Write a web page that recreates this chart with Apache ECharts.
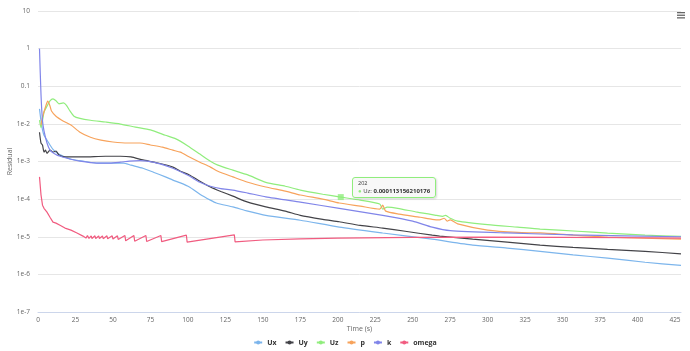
<!DOCTYPE html>
<html>
<head>
<meta charset="utf-8">
<script src="https://cdn.jsdelivr.net/npm/echarts@6/dist/echarts.min.js"></script>
<style>
    html, body { margin: 0; padding: 0; background: #fff; }
    #chart { width: 690px; height: 351px; }
</style>
</head>
<body>
<div id="chart"></div>
<script>
// residuals (time in s)
var uxTime = [1,2,3,4,6,8,10,13,17,22,30,40,50,57,62,70,77,85,90,95,101,108,115,119,130,140,152,175,201,230,263,290,313,335,357,380,405,429];
var ux = [0.025,0.012,0.0069,0.005,0.0037,0.00275,0.0021,0.00165,0.00138,0.00115,0.00102,0.00091,0.00091,0.00091,0.0008,0.00066,0.00052,0.00039,0.00032,0.00027,0.00021,0.000135,0.000094,0.000079,0.000062,0.000048,0.000037,0.0000275,0.000018,0.0000126,0.0000086,0.000006,0.000005,0.0000041,0.0000033,0.0000027,0.0000021,0.00000173];

var uyTime = [1,2,3,4,5,6,8,10,12,14,18,30,45,55,62,70,80,90,95,101,108,115,122,130,140,152,165,175,190,201,215,230,245,263,268,290,313,335,357,380,405,429];
var uy = [0.006,0.0031,0.00275,0.00178,0.002,0.00165,0.002,0.00178,0.0019,0.00148,0.00132,0.00132,0.00138,0.00138,0.00132,0.0011,0.00091,0.00071,0.00055,0.00044,0.0003,0.00021,0.00016,0.00012,0.000083,0.000062,0.000048,0.000037,0.000029,0.000025,0.00002,0.000017,0.000014,0.000011,0.0000104,0.0000086,0.0000072,0.000006,0.0000052,0.0000046,0.0000041,0.0000035];

var uzTime = [1,2,4,6,8,10,12,14,17,19,21,24,28,35,45,55,65,75,85,92,100,108,115,120,130,140,152,165,175,190,202,215,228,230,233,240,253,266,270,272,275,280,300,320,335,360,380,405,429];
var uz = [0.0126,0.0079,0.0204,0.0295,0.041,0.046,0.041,0.034,0.036,0.031,0.023,0.016,0.014,0.0125,0.0112,0.0099,0.0082,0.0069,0.005,0.004,0.0026,0.00158,0.00102,0.0008,0.00059,0.00044,0.00028,0.00022,0.000174,0.000135,0.000113156210176,0.000094,0.000074,0.000054,0.000061,0.000057,0.000045,0.000037,0.000035,0.000037,0.000031,0.000026,0.000021,0.000018,0.000016,0.000014,0.0000125,0.000011,0.0000103];

var pTime = [2,3,5,6.5,8,9,12,17,22,28,35,42,50,60,68,75,83,90,95,100,108,115,120,130,140,152,165,175,190,201,215,228,230,232,241,255,263,268,271,273,275,280,300,320,335,380,429];
var p = [0.0093,0.015,0.028,0.04,0.03,0.022,0.016,0.0118,0.0093,0.006,0.0044,0.0037,0.0033,0.0031,0.0031,0.00275,0.0024,0.002,0.00177,0.00138,0.00096,0.00071,0.00055,0.00039,0.00028,0.00021,0.000163,0.000129,0.0001,0.000079,0.000065,0.000054,0.000069,0.000048,0.00004,0.000033,0.000029,0.000028,0.000031,0.000026,0.000028,0.000022,0.000015,0.000013,0.0000126,0.0000098,0.0000086];

var kTime = [1,2,3,4,6,8,10,13,17,22,28,39,48,55,61,68,73,82,90,101,108,115,122,130,140,152,175,201,230,250,263,275,313,357,429];
var k = [1.0,0.06,0.012,0.0065,0.0031,0.002,0.0017,0.00145,0.0013,0.00115,0.00102,0.00091,0.00091,0.00096,0.00102,0.00105,0.00102,0.00085,0.00066,0.00041,0.00028,0.00022,0.00019,0.000174,0.000145,0.000115,0.000083,0.000057,0.000037,0.000026,0.000018,0.0000145,0.0000126,0.0000112,0.00001];

var omegaTime = [1,2,3,4,6,8,10,12,15,18,22,26,30,31,32,33,34,35.5,36,38,38.5,40.5,41,43,43.5,46,46.5,49.5,50,53,53.5,58,58.5,64,64.5,72,72.5,82,82.5,99,99.5,131,131.5,150,175,200,250,300,350,400,429];
var omega = [3.9e-4,1.3e-4,6.9e-5,5.7e-5,4.5e-5,3.3e-5,2.45e-5,2.3e-5,2.0e-5,1.7e-5,1.5e-5,1.26e-5,1.04e-5,1.08e-5,9.2e-6,1.08e-5,9.0e-6,1.06e-5,9.0e-6,1.06e-5,9.0e-6,1.05e-5,9.0e-6,1.05e-5,8.9e-6,1.06e-5,8.8e-6,1.06e-5,8.7e-6,1.06e-5,8.5e-6,1.08e-5,7.8e-6,1.08e-5,7.6e-6,1.08e-5,7.5e-6,1.08e-5,7.4e-6,1.1e-5,7.2e-6,1.12e-5,7.3e-6,8.2e-6,8.8e-6,9.2e-6,9.6e-6,9.8e-6,9.6e-6,9.4e-6,9.2e-6];

var seriesNames = ['Ux', 'Uy', 'Uz', 'p', 'k', 'omega'];
var colors = ['#7cb5ec', '#434348', '#90ed7d', '#f7a35c', '#8085e9', '#f15c80'];
var tipTime = 202; // point shown in the tooltip

function pairs(t, v) {
    return v.map(function (y, i) { return [t[i], y]; });
}

function logLabel(v) {
    if (v >= 0.1) return String(v);
    return '1e' + Math.round(Math.log10(v));
}

var allData = [pairs(uxTime, ux), pairs(uyTime, uy), pairs(uzTime, uz), pairs(pTime, p), pairs(kTime, k), pairs(omegaTime, omega)];
var tipIndex = uzTime.indexOf(tipTime);

var font = 'Open Sans, sans-serif';

var series = seriesNames.map(function (name, i) {
    return {
        name: name,
        type: 'line',
        data: allData[i],
        showSymbol: false,
        symbol: 'circle',
        symbolSize: 5,
        smooth: name === 'omega' ? false : 0.2,
        lineStyle: { width: 1.2, color: colors[i] },
        itemStyle: { color: colors[i] },
        z: 2 + i
    };
});
// hovered point of Uz
series.push({
    name: 'Uz-hover',
    type: 'scatter',
    data: [[uzTime[tipIndex], uz[tipIndex]]],
    symbol: 'rect',
    symbolSize: 6,
    itemStyle: { color: '#90ed7d' },
    z: 20
});

var chart = echarts.init(document.getElementById('chart'));
chart.setOption({
    animation: false,
    color: colors,
    textStyle: { fontFamily: font },
    grid: { left: 38, right: 9, top: 11, bottom: 39, outerBoundsMode: 'none', containLabel: false },
    tooltip: {
        trigger: 'item',
        triggerOn: 'none',
        alwaysShowContent: true,
        transitionDuration: 0,
        backgroundColor: 'rgba(247,247,247,0.9)',
        borderColor: '#90ed7d',
        borderWidth: 1,
        padding: [2, 5],
        extraCssText: 'border-radius:3px;box-shadow:1px 1px 2px rgba(0,0,0,0.15);',
        position: function () { return [352, 177]; },
        formatter: function () {
            return '<div style="font-family:' + font + ';color:#333">' +
                '<div style="font-size:5.5px;line-height:7px">' + tipTime + '</div>' +
                '<div style="font-size:6px;line-height:8px"><span style="color:#90ed7d">\u25CF</span> Uz: <b>' +
                uz[tipIndex] + '</b></div></div>';
        }
    },
    legend: {
        data: seriesNames,
        bottom: 0,
        left: 'center',
        itemWidth: 8,
        itemHeight: 5,
        itemGap: 8,
        textStyle: { fontSize: 7, fontWeight: 'bold', color: '#333', fontFamily: font }
    },
    xAxis: {
        type: 'value',
        min: 0,
        max: 429,
        interval: 25,
        name: 'Time (s)',
        nameLocation: 'middle',
        nameGap: 13,
        nameMoveOverlap: false,
        nameTextStyle: { fontSize: 7, color: '#666' },
        axisLine: { lineStyle: { color: '#ccd6eb' } },
        axisTick: { show: false },
        splitLine: { show: false },
        axisLabel: {
            fontSize: 6.5,
            color: '#666',
            margin: 5,
            formatter: function (v) { return v % 25 === 0 ? String(v) : ''; }
        }
    },
    yAxis: {
        type: 'log',
        logBase: 10,
        min: 1e-7,
        max: 10,
        name: 'Residual',
        nameLocation: 'middle',
        nameGap: 25,
        nameMoveOverlap: false,
        nameTextStyle: { fontSize: 7, color: '#666' },
        axisLine: { show: false },
        axisTick: { show: false },
        splitLine: { lineStyle: { color: '#e6e6e6' } },
        axisLabel: { fontSize: 6.5, color: '#666', margin: 8, formatter: logLabel }
    },
    graphic: [{
        type: 'group',
        right: 5,
        top: 12,
        children: [
            { type: 'rect', shape: { x: 0, y: 0, width: 8, height: 1.3 }, style: { fill: '#666' } },
            { type: 'rect', shape: { x: 0, y: 2.6, width: 8, height: 1.3 }, style: { fill: '#666' } },
            { type: 'rect', shape: { x: 0, y: 5.2, width: 8, height: 1.3 }, style: { fill: '#666' } }
        ]
    }],
    series: series
});

chart.dispatchAction({ type: 'showTip', seriesIndex: 6, dataIndex: 0 });
</script>
</body>
</html>
